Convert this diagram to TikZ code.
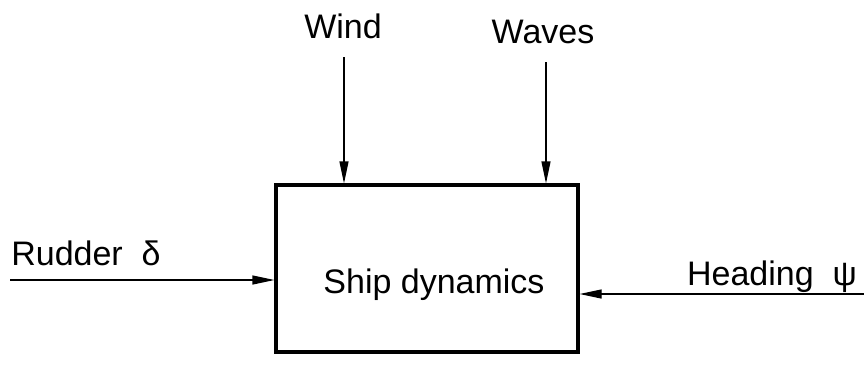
\documentclass[tikz,border=0pt]{standalone}
\usepackage{fontspec}
\setmainfont{Liberation Sans}
\usetikzlibrary{arrows.meta}
\begin{document}
\begin{tikzpicture}[x=0.5pt,y=-0.5pt,
  blockbox/.style={draw,line width=1.6pt,minimum width=151pt,minimum height=83.5pt,inner sep=0pt},
  lbl/.style={font=\fontsize{17}{20}\selectfont,anchor=base,inner sep=0pt},
  arr/.style={line width=0.6pt,-{Triangle[length=11pt,width=4.5pt]}}]
\useasboundingbox (0,0) rectangle (864,388);
\node[blockbox] (box) at (427,268.5) {};
\node[lbl] (ship) at (434,293) {Ship dynamics};
\node[lbl] (wind) at (343,38) {Wind};
\node[lbl] (waves) at (543,43) {Waves};
\node[lbl] (rudder) at (86,265) {Rudder\ \ δ};
\node[lbl] (heading) at (772,285) {Heading\ \ ψ};
\coordinate (windS) at (344,57);
\coordinate (wavesS) at (546,62);
\coordinate (rudS) at (10,280);
\coordinate (headS) at (864,294);
\draw[arr] (windS) -- (windS |- box.north);
\draw[arr] (wavesS) -- (wavesS |- box.north);
\draw[arr] (rudS) -- (rudS -| box.west);
\draw[arr] (headS) -- (headS -| box.east);
\end{tikzpicture}
\end{document}
